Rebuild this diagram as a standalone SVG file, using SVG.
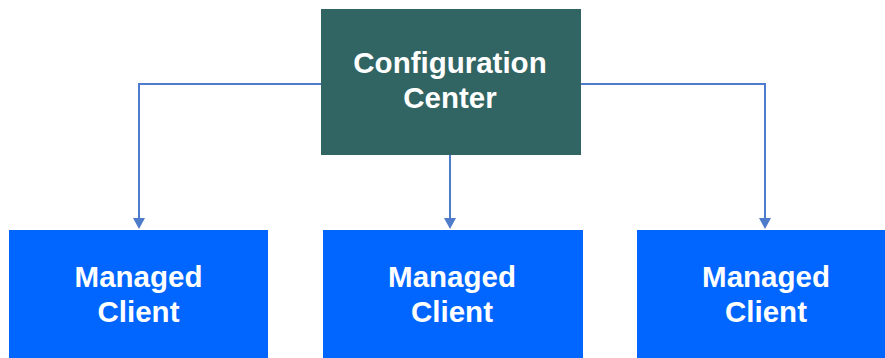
<svg xmlns="http://www.w3.org/2000/svg" width="885" height="358" viewBox="0 0 885 358">
<defs>
<style>
.lbl{font-family:"Liberation Sans",Arial,sans-serif;font-weight:bold;font-size:29.5px;fill:#ffffff;text-anchor:middle}
.conn{fill:none;stroke:#4f7bcb;stroke-width:2}
.head{fill:#4f7bcb}
.client{fill:#0066ff}
</style>
</defs>
<rect width="885" height="358" fill="#ffffff"/>
<g id="connectors">
<path class="conn" d="M321,84 H139 V218"/>
<path class="head" d="M133,218 L145,218 L139,229 Z"/>
<path class="conn" d="M450,155 V218"/>
<path class="head" d="M444,218 L456,218 L450,229 Z"/>
<path class="conn" d="M581,84 H765 V218"/>
<path class="head" d="M759,218 L771,218 L765,229 Z"/>
</g>
<g id="config-center">
<rect x="321" y="9" width="260" height="146" fill="#316563"/>
<text class="lbl" x="450" y="73">Configuration</text>
<text class="lbl" x="450" y="108">Center</text>
</g>
<g id="client-1">
<rect class="client" x="9" y="230" width="259" height="130"/>
<text class="lbl" x="138.5" y="287">Managed</text>
<text class="lbl" x="138.5" y="322">Client</text>
</g>
<g id="client-2">
<rect class="client" x="323" y="230" width="260" height="130"/>
<text class="lbl" x="452" y="287">Managed</text>
<text class="lbl" x="452" y="322">Client</text>
</g>
<g id="client-3">
<rect class="client" x="637" y="230" width="250" height="130"/>
<text class="lbl" x="766" y="287">Managed</text>
<text class="lbl" x="766" y="322">Client</text>
</g>
</svg>
